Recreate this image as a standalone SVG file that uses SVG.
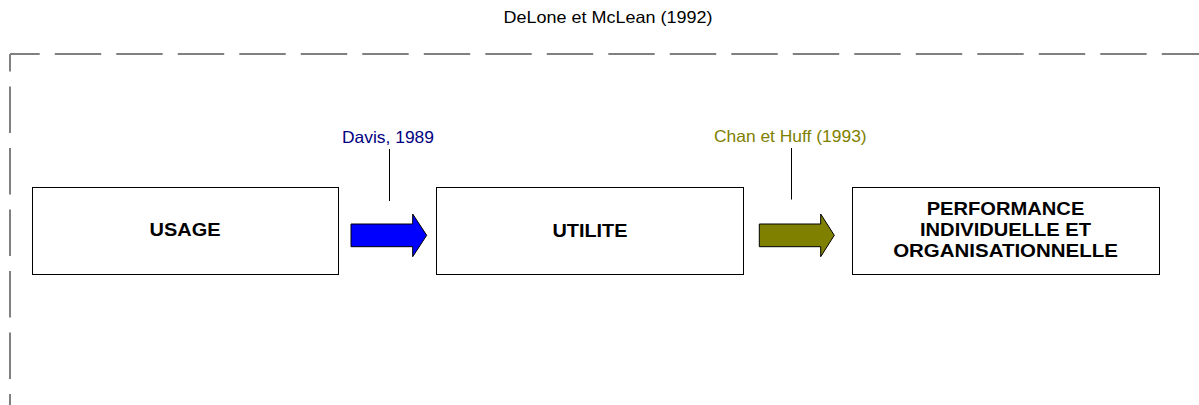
<svg xmlns="http://www.w3.org/2000/svg" width="1199" height="405" viewBox="0 0 1199 405">
<style>
.box{fill:#fff;stroke:#000;stroke-width:1}
.frame{fill:none;stroke:#808080;stroke-width:2;stroke-dasharray:46.4 15.1}
.lbl{font-family:"Liberation Sans",Arial,sans-serif;font-weight:bold;font-size:18.5px;fill:#000;text-anchor:middle}
.ref{font-family:"Liberation Sans",Arial,sans-serif;font-size:16.5px;text-anchor:middle}
.lead{stroke:#000;stroke-width:1}
.arr{stroke:#000;stroke-width:1}
</style>
<rect width="1199" height="405" fill="#fff"/>
<g id="frame">
<path class="frame" d="M10,54 H1210" stroke-dashoffset="16.7"/>
<path class="frame" d="M10,54 V420" stroke-dashoffset="29"/>
</g>
<g id="title">
<text class="ref" x="608" y="23.3" fill="#000" textLength="209" lengthAdjust="spacingAndGlyphs">DeLone et McLean (1992)</text>
</g>
<g id="usage">
<rect class="box" x="32.5" y="187.5" width="306" height="87"/>
<text class="lbl" x="185" y="236" textLength="71" lengthAdjust="spacingAndGlyphs">USAGE</text>
</g>
<g id="utilite">
<rect class="box" x="436.5" y="187.5" width="307" height="87"/>
<text class="lbl" x="590" y="236.5" textLength="75" lengthAdjust="spacingAndGlyphs">UTILITE</text>
</g>
<g id="performance">
<rect class="box" x="852.5" y="187.5" width="307" height="87"/>
<text class="lbl" x="1005.5" y="214.5" textLength="157.7" lengthAdjust="spacingAndGlyphs">PERFORMANCE</text>
<text class="lbl" x="1005.5" y="235.5" textLength="171" lengthAdjust="spacingAndGlyphs">INDIVIDUELLE ET</text>
<text class="lbl" x="1005.5" y="256.5" textLength="224.7" lengthAdjust="spacingAndGlyphs">ORGANISATIONNELLE</text>
</g>
<g id="connectors">
<g id="arrow-davis">
<polygon class="arr" fill="#0000FF" points="351,224 412.7,224 412.7,214 426.7,235.3 412.7,256.7 412.7,246.7 351,246.7"/>
<line class="lead" x1="389.5" y1="149" x2="389.5" y2="201"/>
<text class="ref" x="388" y="142.5" fill="#000080" textLength="92" lengthAdjust="spacingAndGlyphs">Davis, 1989</text>
</g>
<g id="arrow-chan">
<polygon class="arr" fill="#808000" points="759.3,224 820.7,224 820.7,214 834.3,235.3 820.7,256.7 820.7,246.7 759.3,246.7"/>
<line class="lead" x1="791.5" y1="148" x2="791.5" y2="199.5"/>
<text class="ref" x="790.3" y="142" fill="#808000" textLength="152.7" lengthAdjust="spacingAndGlyphs">Chan et Huff (1993)</text>
</g>
</g>
</svg>
